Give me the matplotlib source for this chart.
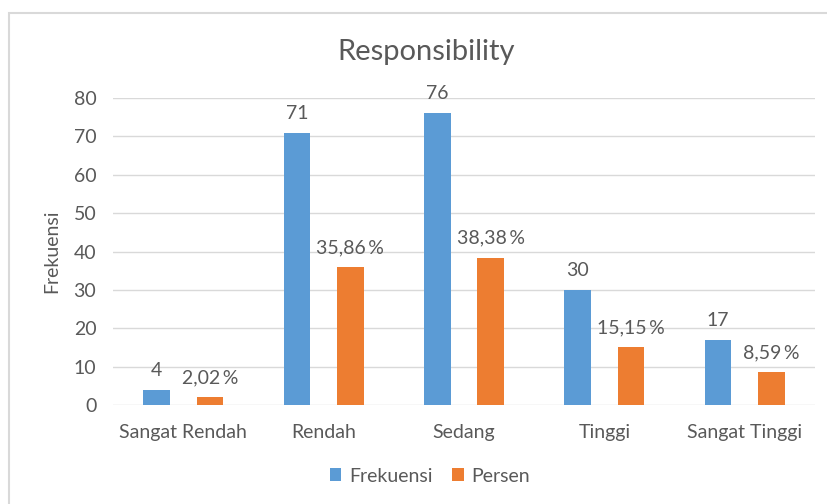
import matplotlib.pyplot as plt
import numpy as np
from matplotlib.patches import Rectangle

categories = ['Sangat Rendah', 'Rendah', 'Sedang', 'Tinggi', 'Sangat Tinggi']
frekuensi = [4, 71, 76, 30, 17]
persen = [2.02, 35.86, 38.38, 15.15, 8.59]
yticks = [0, 10, 20, 30, 40, 50, 60, 70, 80]

blue = '#5b9bd5'
orange = '#ed7d31'
gray = '#595959'

plt.rcParams['font.family'] = ['Lato', 'DejaVu Sans']

fig = plt.figure(figsize=(8.27, 5.04), dpi=100)
ax = fig.add_axes([113 / 827, 1 - 405 / 504, (815 - 113) / 827, (405 - 98) / 504])

# chart frame, as in the Excel export
fig.patches.append(Rectangle((9 / 827, -0.1), 1.2, 1 - 13 / 504 + 0.1,
                             transform=fig.transFigure, fill=False,
                             edgecolor='#d9d9d9', linewidth=1.5))

x = np.arange(len(categories))
w = 0.19
b1 = ax.bar(x - w, frekuensi, w, color=blue, label='Frekuensi', zorder=3)
b2 = ax.bar(x + w, persen, w, color=orange, label='Persen', zorder=3)

for rect, v in zip(b1, frekuensi):
    ax.annotate(str(v), (rect.get_x() + rect.get_width() / 2, v),
                xytext=(0, 14), textcoords='offset points',
                ha='center', va='center', fontsize=14, color=gray)
for rect, v in zip(b2, persen):
    txt = f'{v:.2f}'.replace('.', ',') + '\u2009%'
    ax.annotate(txt, (rect.get_x() + rect.get_width() / 2, v),
                xytext=(0, 14), textcoords='offset points',
                ha='center', va='center', fontsize=14, color=gray)

ax.set_xlim(-0.5, len(categories) - 0.5)
ax.set_ylim(0, 80)
ax.set_yticks(yticks)
ax.set_xticks(x)
ax.set_xticklabels(categories)
ax.tick_params(length=0, labelsize=14, labelcolor=gray)
ax.tick_params(axis='x', pad=14)
ax.tick_params(axis='y', pad=12)
ax.grid(axis='y', color='#d9d9d9', linewidth=1, zorder=0)
for s in ax.spines.values():
    s.set_visible(False)

ax.set_ylabel('Frekuensi', fontsize=14, color=gray)
ax.yaxis.set_label_coords(-0.075, 0.5)
fig.text(0.515, 1 - 52 / 504, 'Responsibility', ha='center', va='center',
         fontsize=21, color=gray)

fig.legend(handles=[b1, b2], labels=['Frekuensi', 'Persen'],
           loc='center', bbox_to_anchor=(0.52, 1 - 476 / 504), ncol=2,
           frameon=False, fontsize=14, labelcolor=gray,
           handlelength=0.6, handleheight=0.6, handletextpad=0.4,
           columnspacing=1.0)

fig.savefig('out.png', dpi=100)
